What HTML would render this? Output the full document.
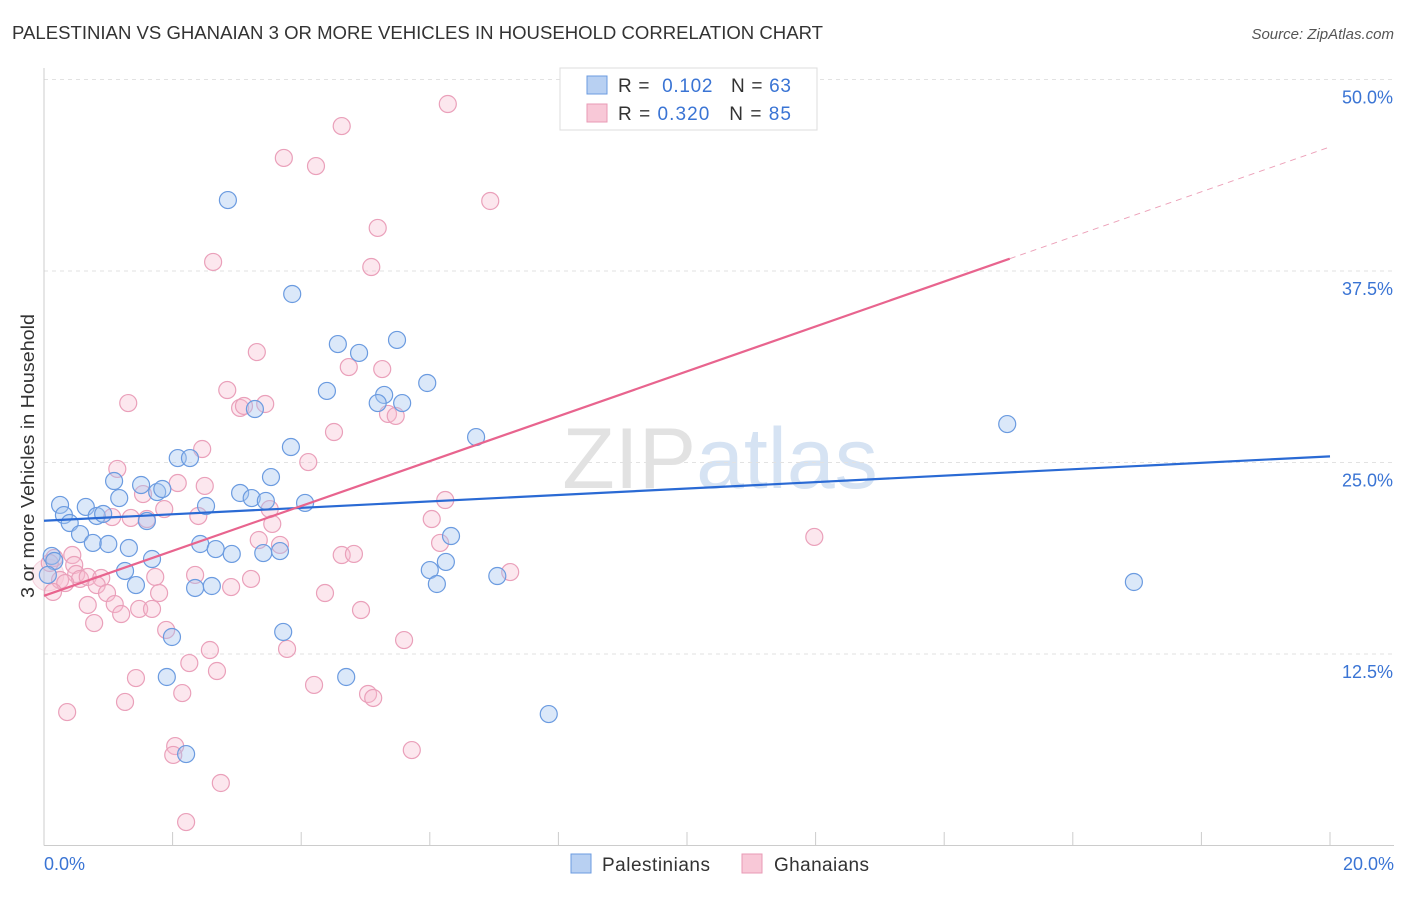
<!DOCTYPE html>
<html><head><meta charset="utf-8"><style>
body{margin:0;background:#fff;font-family:"Liberation Sans",sans-serif;}
svg text{font-family:"Liberation Sans",sans-serif;}
</style></head><body>
<svg id="chart" width="1406" height="892" xmlns="http://www.w3.org/2000/svg">
<text x="12" y="39" font-size="18" fill="#333" textLength="811" lengthAdjust="spacingAndGlyphs">PALESTINIAN VS GHANAIAN 3 OR MORE VEHICLES IN HOUSEHOLD CORRELATION CHART</text>
<text x="1394" y="39" font-size="15" fill="#555" text-anchor="end" font-style="italic">Source: ZipAtlas.com</text>
<text x="720" y="488" font-size="86" text-anchor="middle" fill="#e6e6e6" font-family="Liberation Serif"><tspan fill="#e2e2e2">ZIP</tspan><tspan fill="#d6e3f3" font-family="Liberation Sans">atlas</tspan></text>
<g id="grid"></g><g id="axes"></g><g id="pts"></g><g id="lines"></g>
<text transform="translate(34,456) rotate(-90)" font-size="18" fill="#333" text-anchor="middle" textLength="284" lengthAdjust="spacingAndGlyphs">3 or more Vehicles in Household</text>
<g>
<rect x="560" y="68" width="257" height="62" fill="#fff" stroke="#ddd"/>
<rect x="587" y="76" width="20" height="18" fill="#b8d0f2" stroke="#6b9be0"/>
<rect x="587" y="104" width="20" height="18" fill="#f8c8d7" stroke="#e89ab5"/>
<text x="618" y="92" font-size="19" fill="#333" textLength="173">R = <tspan fill="#3a74d4">&#160;0.102</tspan>&#160;&#160;&#160;N = <tspan fill="#3a74d4">63</tspan></text>
<text x="618" y="120" font-size="19" fill="#333" textLength="173">R = <tspan fill="#3a74d4">0.320</tspan>&#160;&#160;&#160;N = <tspan fill="#3a74d4">85</tspan></text>
</g>
<g>
<rect x="571" y="854" width="20" height="19" fill="#b8d0f2" stroke="#6b9be0"/>
<text x="602" y="871" font-size="19" fill="#333" textLength="108">Palestinians</text>
<rect x="742" y="854" width="20" height="19" fill="#f8c8d7" stroke="#e89ab5"/>
<text x="774" y="871" font-size="19" fill="#333" textLength="95">Ghanaians</text>
</g>
</svg>
<script>
const yTicks=[12.5,25,37.5,50];
const yTickLabels=["12.5%","25.0%","37.5%","50.0%"];
const xTicks=[0,2,4,6,8,10,12,14,16,18,20];
const blueX=[2.86,3.86,4.57,4.90,5.49,4.40,5.29,5.19,5.57,5.96,3.28,6.72,14.98,16.95,3.84,2.08,2.27,3.53,1.51,1.76,1.84,3.05,3.23,3.45,4.06,2.52,0.25,0.65,1.17,1.09,0.31,0.40,0.82,0.92,1.60,0.56,0.76,1.00,1.32,2.43,2.67,2.92,3.41,3.67,1.68,0.12,0.16,1.26,1.43,2.35,2.61,6.00,6.25,6.11,6.33,7.05,1.99,3.72,1.91,4.70,2.21,7.85,0.06];
const blueY=[42.13,36.0,32.73,32.15,33.0,29.67,29.41,28.88,28.88,30.19,28.49,26.66,27.51,17.20,26.01,25.29,25.29,24.05,23.53,23.07,23.27,23.01,22.68,22.49,22.36,22.16,22.23,22.10,22.68,23.79,21.57,21.05,21.51,21.64,21.18,20.33,19.75,19.68,19.42,19.68,19.35,19.03,19.09,19.22,18.70,18.90,18.57,17.92,17.00,16.81,16.94,17.98,18.51,17.07,20.20,17.59,13.61,13.94,11.00,11.00,5.97,8.58,17.66];
const pinkX=[6.28,4.63,3.73,4.23,6.94,5.19,2.63,5.09,3.31,4.74,5.26,2.85,1.31,3.05,3.11,3.44,5.35,5.47,4.51,2.46,4.11,1.14,2.08,2.50,1.54,1.87,3.51,6.24,1.06,1.35,1.60,2.40,3.55,6.03,11.98,3.34,3.67,6.16,4.63,4.82,0.44,0.16,0.09,0.47,0.50,0.25,0.56,0.68,0.89,0.33,1.73,2.35,3.22,0.82,0.98,1.79,2.91,7.25,0.14,0.68,1.10,1.48,1.68,1.20,4.37,4.93,0.78,1.90,2.58,5.60,3.78,2.26,2.69,1.43,4.20,2.15,5.04,5.12,1.26,0.36,2.04,2.01,5.72,2.75,2.21];
const pinkY=[48.40,46.96,44.88,44.35,42.07,40.31,38.09,37.76,32.21,31.23,31.10,29.73,28.88,28.56,28.69,28.82,28.17,28.04,26.99,25.88,25.03,24.58,23.66,23.47,22.94,21.96,21.96,22.55,21.44,21.38,21.31,21.51,20.99,21.31,20.14,19.94,19.62,19.75,18.96,19.03,18.96,18.77,18.44,18.31,17.72,17.33,17.40,17.53,17.46,17.13,17.53,17.66,17.40,17.00,16.48,16.48,16.87,17.85,16.55,15.70,15.76,15.44,15.44,15.11,16.48,15.37,14.52,14.07,12.76,13.41,12.83,11.91,11.39,10.93,10.48,9.95,9.89,9.63,9.37,8.71,6.49,5.91,6.23,4.08,1.53];
const blueLine=[21.2,25.4];
const pinkLine=[16.3,45.6];
const pinkSolidEnd=15.02;

const NS="http://www.w3.org/2000/svg";
const X=v=>44+v*64.3, Y=v=>845.5-v*15.32;
function mk(tag,attrs,parent){const e=document.createElementNS(NS,tag);for(const k in attrs)e.setAttribute(k,attrs[k]);document.getElementById(parent).appendChild(e);return e;}
yTicks.forEach((t,i)=>{
 const g=mk('line',{x1:44,x2:1394,y1:Y(t),y2:Y(t),stroke:'#e2e2e2','stroke-dasharray':'4,4'},'grid');
 
 
 const l=mk('text',{x:1393,y:Y(t)+24,'font-size':18,fill:'#3a74d4','text-anchor':'end'},'grid');
 l.textContent=yTickLabels[i];
 
 
});
const ax=mk('line',{x1:44,x2:1394,y1:845.5,y2:845.5,stroke:'#ccc'},'axes');


const ay=mk('line',{x1:44,x2:44,y1:68,y2:845.5,stroke:'#ccc'},'axes');


xTicks.forEach(t=>{
 const k=mk('line',{x1:X(t),x2:X(t),y1:832,y2:845.5,stroke:'#ccc'},'axes');
 
 
});
const xl0=mk('text',{x:44,y:870,'font-size':18,fill:'#3a74d4'},'axes');xl0.textContent='0.0%';


const xl1=mk('text',{x:1394,y:870,'font-size':18,fill:'#3a74d4','text-anchor':'end'},'axes');xl1.textContent='20.0%';


const big=mk('circle',{cx:X(0.06),cy:Y(17.66),r:16,fill:'rgba(240,190,205,0.3)',stroke:'rgba(232,154,181,0.4)'},'pts');


pinkX.forEach((v,i)=>{
 const c=mk('circle',{cx:X(v),cy:Y(pinkY[i]),r:8.5,fill:'rgba(246,186,205,0.35)',stroke:'#eaa0ba','stroke-width':1.2},'pts');
 
 
});
blueX.forEach((v,i)=>{
 const c=mk('circle',{cx:X(v),cy:Y(blueY[i]),r:8.5,fill:'rgba(165,197,240,0.4)',stroke:'#6b9be0','stroke-width':1.2},'pts');
 
 
});
const bl=mk('line',{x1:X(0),y1:Y(blueLine[0]),x2:X(20),y2:Y(blueLine[1]),stroke:'#2a6ad4','stroke-width':2.2},'lines');


const pAt=x=>pinkLine[0]+(pinkLine[1]-pinkLine[0])*x/20;
const pl=mk('line',{x1:X(0),y1:Y(pAt(0)),x2:X(pinkSolidEnd),y2:Y(pAt(pinkSolidEnd)),stroke:'#e8648e','stroke-width':2.2},'lines');


const pd=mk('line',{x1:X(pinkSolidEnd),y1:Y(pAt(pinkSolidEnd)),x2:X(20),y2:Y(pAt(20)),stroke:'#eca0b8','stroke-width':1,'stroke-dasharray':'6,5'},'lines');


</script>
</body></html>
